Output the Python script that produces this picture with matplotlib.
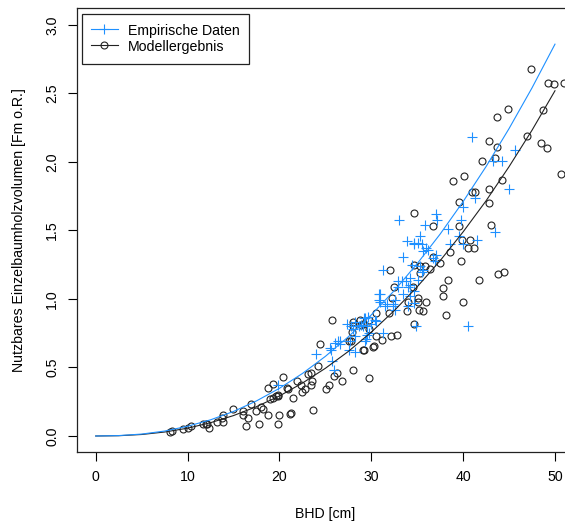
import matplotlib
matplotlib.use("Agg")
import matplotlib.pyplot as plt
from matplotlib.lines import Line2D

# ---- data -------------------------------------------------------------
emp_d = [19.9, 24.0, 25.5, 25.6, 25.7, 25.9, 26.0, 26.4, 26.6, 26.6, 27.6, 27.7,
         28.0, 28.2, 28.2, 28.9, 29.6, 30.8, 30.8, 30.9, 30.9, 31.3, 31.3, 31.7,
         32.4, 32.6, 32.9, 32.9, 33.0, 33.3, 33.5, 33.5, 33.8, 33.9, 34.0, 34.0,
         34.2, 34.2, 34.2, 34.4, 34.6, 34.6, 34.6, 34.7, 34.9, 35.1, 35.1, 35.3,
         35.3, 35.5, 35.5, 35.6, 35.6, 35.8, 36.0, 36.2, 36.7, 36.9, 37.1, 37.1,
         37.2, 38.4, 38.6, 39.6, 39.8, 40.0, 40.0, 40.5, 41.0, 41.3, 41.5, 43.2,
         43.5, 44.2, 45.0, 45.6,
         27.4, 27.8, 28.2, 28.7, 29.2, 29.5, 29.7, 29.4, 30.5, 29.3, 29.1, 29.5,
         29.3, 30.0, 30.4, 31.5, 32.4, 32.6]
emp_v = [0.37, 0.60, 0.64, 0.63, 0.55, 0.48, 0.68, 0.69, 0.67, 0.69, 0.63, 0.69,
         0.78, 0.73, 0.61, 0.81, 0.87, 1.04, 0.99, 0.98, 1.04, 0.75, 1.21, 0.96,
         0.95, 0.92, 1.09, 1.13, 1.58, 1.13, 1.04, 1.31, 1.13, 1.42, 0.95, 1.09,
         1.02, 1.10, 1.15, 1.25, 0.97, 1.06, 1.41, 1.40, 0.80, 1.14, 1.41, 1.24,
         1.46, 1.20, 1.40, 1.21, 1.35, 1.54, 1.37, 1.36, 1.30, 1.28, 1.32, 1.62,
         1.58, 1.51, 1.40, 1.46, 1.58, 1.40, 1.67, 0.80, 2.18, 1.74, 1.43, 2.01,
         1.49, 2.01, 1.80, 2.09,
         0.82, 0.80, 0.83, 0.80, 0.86, 0.80, 0.75, 0.71, 0.84, 0.86, 0.80, 0.74,
         0.69, 0.82, 0.85, 0.95, 0.96, 0.99]

mod_d = [8.1, 8.3, 9.5, 10.0, 10.4, 11.7, 12.0, 12.3, 13.2, 13.7, 13.9, 13.9,
         14.9, 16.0, 16.0, 16.6, 16.4, 16.9, 17.8, 17.4, 18.0, 18.2, 18.8, 18.8,
         19.3, 19.0, 19.3, 19.6, 19.8, 19.9, 20.4, 20.8, 20.0, 19.9, 21.1, 20.9,
         21.5, 21.9, 22.3, 22.8, 22.5, 23.4, 23.5, 23.1, 23.4, 23.7, 24.2, 24.4,
         25.1, 25.4, 25.7, 25.9, 26.3, 26.8, 27.8, 28.0, 28.0, 28.9, 28.0, 29.2,
         29.8, 29.8, 29.1, 29.8, 30.3, 30.5, 30.5, 31.2, 31.9, 32.1, 32.8, 30.2,
         29.1, 32.0, 32.3, 32.5, 33.9, 34.0, 34.5, 34.7, 34.7, 34.7, 35.1, 35.1,
         35.2, 35.3, 35.3, 35.6, 35.8, 36.0, 36.4, 36.7, 36.7, 37.5, 37.8, 37.8,
         38.1, 38.3, 38.6, 38.9, 39.5, 39.6, 39.8, 39.9, 40.0, 40.1, 40.5, 40.7,
         41.0, 41.2, 41.3, 41.7, 42.1, 42.8, 42.8, 42.8, 43.0, 43.5, 43.7, 43.7,
         43.8, 44.2, 44.5, 44.9, 47.0, 47.4, 48.5, 48.7, 49.1, 49.2, 49.9, 50.7,
         51.0, 27.6, 27.9, 28.8, 21.3, 12.1]
mod_v = [0.03, 0.035, 0.05, 0.06, 0.07, 0.09, 0.085, 0.055, 0.10, 0.13, 0.10, 0.15,
         0.20, 0.18, 0.15, 0.13, 0.075, 0.23, 0.085, 0.18, 0.21, 0.20, 0.15, 0.35,
         0.38, 0.27, 0.28, 0.29, 0.29, 0.30, 0.43, 0.35, 0.15, 0.09, 0.16, 0.34,
         0.28, 0.40, 0.37, 0.34, 0.32, 0.37, 0.40, 0.45, 0.46, 0.19, 0.51, 0.67,
         0.34, 0.37, 0.85, 0.44, 0.46, 0.40, 0.69, 0.48, 0.83, 0.81, 0.80, 0.63,
         0.85, 0.42, 0.82, 0.78, 0.66, 0.73, 0.90, 0.70, 0.90, 0.73, 0.74, 0.65,
         0.63, 1.21, 1.01, 1.09, 0.91, 0.98, 1.09, 0.82, 1.25, 1.63, 0.98, 1.01,
         0.92, 1.24, 1.19, 0.91, 1.24, 0.98, 1.22, 1.31, 1.53, 1.26, 1.08, 1.02,
         0.88, 1.14, 1.34, 1.86, 1.53, 1.71, 1.28, 1.43, 0.98, 1.90, 1.37, 1.43,
         1.78, 1.37, 1.78, 1.14, 2.01, 1.80, 1.70, 2.15, 1.54, 2.03, 2.11, 2.33,
         1.18, 1.87, 1.20, 2.39, 2.19, 2.68, 2.14, 2.38, 2.10, 2.58, 2.57, 1.91,
         2.58, 0.69, 0.76, 0.85, 0.17, 0.09]

curve_d = [0, 2.5, 5, 7.5, 10, 12.5, 15, 17.5, 20, 22.5, 25, 27.5, 30, 32.5,
           35, 37.5, 40, 42.5, 45, 47.5, 50]
curve_emp = [0.0, 0.003, 0.014, 0.036, 0.071, 0.118, 0.179, 0.256, 0.348, 0.456,
             0.581, 0.724, 0.884, 1.061, 1.258, 1.474, 1.711, 1.967, 2.244, 2.541,
             2.86]
curve_mod = [0.0, 0.002, 0.011, 0.029, 0.057, 0.097, 0.149, 0.214, 0.292, 0.386,
             0.494, 0.617, 0.758, 0.915, 1.089, 1.280, 1.490, 1.717, 1.966, 2.232,
             2.52]

xticks = [0, 10, 20, 30, 40, 50]
yticks = [0.0, 0.5, 1.0, 1.5, 2.0, 2.5, 3.0]
ytick_labels = ["0.0", "0.5", "1.0", "1.5", "2.0", "2.5", "3.0"]
labels = ["Empirische Daten", "Modellergebnis"]
xlabel = "BHD [cm]"
ylabel = "Nutzbares Einzelbaumholzvolumen [Fm o.R.]"

# ---- styling ----------------------------------------------------------
plt.rcParams['font.family'] = ['Liberation Sans', 'DejaVu Sans']
FS = 10.2
BLUE = "#1E90FF"
DARK = "#222222"

fig = plt.figure(figsize=(5.65, 5.23), dpi=100)
ax = fig.add_axes([77 / 565, 71 / 523, 488 / 565, 444 / 523])

ax.plot(mod_d, mod_v, linestyle="none", marker="o", markersize=5.0,
        markerfacecolor="none", markeredgecolor=DARK, markeredgewidth=0.8)
ax.plot(emp_d, emp_v, linestyle="none", marker="+", markersize=7.5,
        markeredgecolor=BLUE, markeredgewidth=0.8)
ax.plot(curve_d, curve_mod, color=DARK, linewidth=0.8)
ax.plot(curve_d, curve_emp, color=BLUE, linewidth=0.8)

ax.set_xlim(-2.036, 51.09)
ax.set_ylim(-0.1168, 3.124)
ax.set_xticks(xticks)
ax.set_xticklabels([str(t) for t in xticks])
ax.set_yticks(yticks)
ax.set_yticklabels(ytick_labels, rotation=90, va="center")
ax.tick_params(direction="out", length=6.5, width=0.8, pad=6.3,
               labelsize=FS, colors="black")
for s in ["left", "bottom", "top"]:
    ax.spines[s].set_linewidth(0.9)
    ax.spines[s].set_color("#222222")
ax.spines["right"].set_visible(False)

ax.set_xlabel(xlabel, fontsize=FS)
ax.set_ylabel(ylabel, fontsize=FS)
ax.xaxis.set_label_coords(0.508, -0.123)
ax.yaxis.set_label_coords(-0.104, 0.5)

handles = [
    Line2D([], [], color=BLUE, linewidth=0.8, marker="+", markersize=7.5,
           markeredgewidth=0.8),
    Line2D([], [], color=DARK, linewidth=0.8, marker="o", markersize=5.0,
           markerfacecolor="none", markeredgewidth=0.8),
]
leg = ax.legend(handles, labels, loc="upper left",
                bbox_to_anchor=((81.7 - 77) / 488, (452 - 13.5) / 444),
                borderaxespad=0, fontsize=FS, frameon=True, fancybox=False,
                edgecolor="#222222", framealpha=1, borderpad=0.65,
                handlelength=1.9, handletextpad=0.72, handleheight=1.2,
                labelspacing=0.12, numpoints=1)
leg.get_frame().set_linewidth(0.9)

fig.savefig("out.png", dpi=100)
